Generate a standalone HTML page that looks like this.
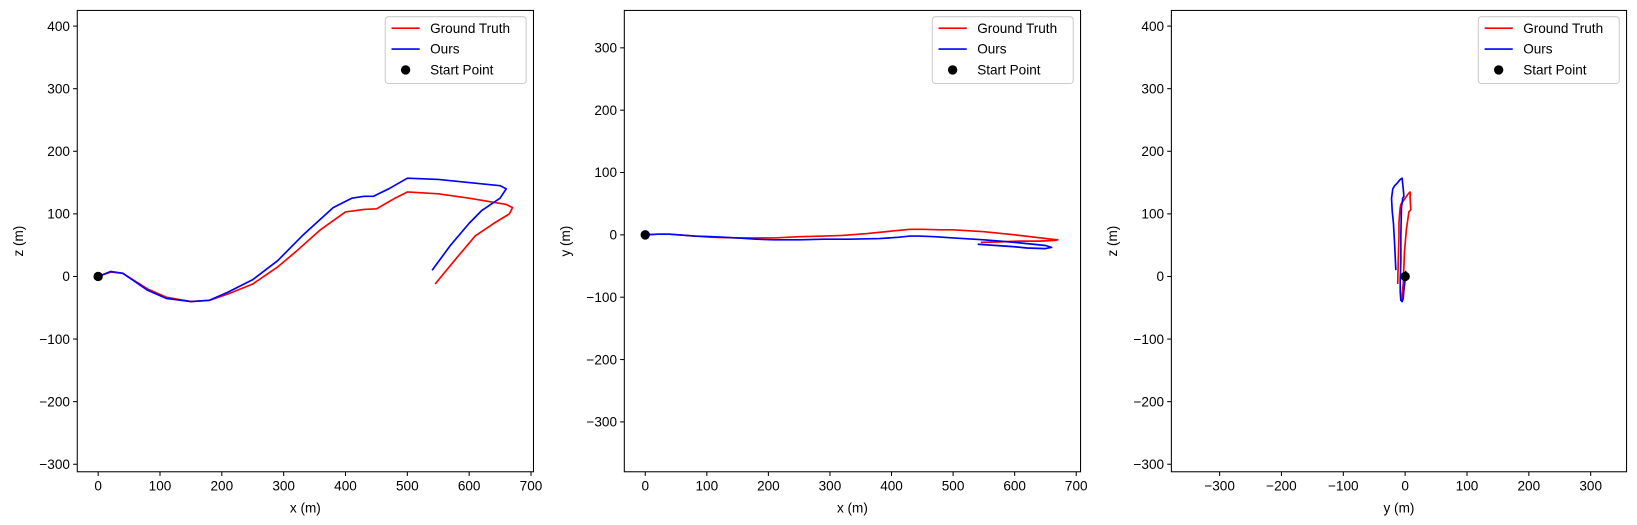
<!DOCTYPE html>
<html><head><meta charset="utf-8"><style>
html,body{margin:0;padding:0;background:#fff;overflow:hidden;width:1637px;height:525px;}
svg{display:block;}
svg text{font-family:"Liberation Sans",sans-serif;font-size:13px;fill:#000;}
</style></head><body>
<svg id="fig" width="1637" height="525" viewBox="0 0 1568 503" preserveAspectRatio="none"></svg>
<script>
const gtX=[0,20,40,80,110,150,180,210,250,290,320,360,400,430,450,480,500,550,600,660,670,665,640,610,580,545];
const gtY=[0,1,1,-2,-4,-5,-5,-5,-3,-2,-1,2,6,9,9,8,8,5,0,-7,-8,-9,-10,-10,-11,-12];
const gtZ=[0,7,5,-20,-33,-40,-38,-28,-12,15,40,75,103,107,108,125,135,132,125,115,110,100,85,65,30,-12];
const ouX=[0,20,40,80,110,150,180,210,250,290,330,380,410,430,445,470,500,550,600,650,660,650,620,600,570,540];
const ouY=[0,1,1,-2,-3,-5,-7,-8,-8,-7,-7,-6,-4,-2,-2,-3,-5,-8,-12,-17,-20,-22,-21,-19,-17,-15];
const ouZ=[0,8,5,-22,-35,-40,-38,-25,-5,25,65,110,125,128,128,140,157,155,150,145,140,125,105,85,50,10];
const start=[0,0,0];
const xTicks=[0,100,200,300,400,500,600,700];
const zTicks=[-300,-200,-100,0,100,200,300,400];
const yTicks2=[-300,-200,-100,0,100,200,300];
const yTicks3=[-300,-200,-100,0,100,200,300];
const NS="http://www.w3.org/2000/svg";
const svg=document.getElementById('fig');
function mk(t,a,p){const e=document.createElementNS(NS,t);for(const k in a)e.setAttribute(k,a[k]);(p||svg).appendChild(e);return e;}
const panels=[
 {L:74,R:511,T:10,B:452,xmin:-33.8,xmax:704,ymin:-312,ymax:425,hx:gtX,hy:gtZ,ox:ouX,oy:ouZ,xt:xTicks,yt:zTicks,xl:'x (m)',yl:'z (m)',s:[0,2]},
 {L:598,R:1035,T:10,B:452,xmin:-34,xmax:707,ymin:-380,ymax:360,hx:gtX,hy:gtY,ox:ouX,oy:ouY,xt:xTicks,yt:yTicks2,xl:'x (m)',yl:'y (m)',s:[0,1]},
 {L:1122,R:1558,T:10,B:452,xmin:-378,xmax:358,ymin:-312,ymax:425,hx:gtY,hy:gtZ,ox:ouY,oy:ouZ,xt:yTicks3,yt:zTicks,xl:'y (m)',yl:'z (m)',s:[1,2]}
];
panels.forEach((p,i)=>{
 const g=mk('g',{});
 
 
 const sx=v=>p.L+(v-p.xmin)/(p.xmax-p.xmin)*(p.R-p.L);
 const sy=v=>p.B-(v-p.ymin)/(p.ymax-p.ymin)*(p.B-p.T);
 const pts=(xs,ys)=>xs.map((v,k)=>sx(v).toFixed(1)+','+sy(ys[k]).toFixed(1)).join(' ');
 const gl=mk('polyline',{points:pts(p.hx,p.hy),fill:'none',stroke:'#f00','stroke-width':1.6,'stroke-linejoin':'round'},g);
 
 
 const ol=mk('polyline',{points:pts(p.ox,p.oy),fill:'none',stroke:'#00f','stroke-width':1.6,'stroke-linejoin':'round'},g);
 
 
 const sp=mk('circle',{cx:sx(start[p.s[0]]),cy:sy(start[p.s[1]]),r:4.5,fill:'#000'},g);
 
 
 mk('rect',{x:p.L,y:p.T,width:p.R-p.L,height:p.B-p.T,fill:'none',stroke:'#000','stroke-width':1},g);
 p.xt.forEach(v=>{const x=sx(v);mk('line',{x1:x,x2:x,y1:p.B,y2:p.B+4,stroke:'#000'},g);
  const t=mk('text',{x:x,y:p.B+18,'text-anchor':'middle'},g);t.textContent=v<0?'\u2212'+(-v):v;
  });
 p.yt.forEach(v=>{const y=sy(v);mk('line',{x1:p.L-4,x2:p.L,y1:y,y2:y,stroke:'#000'},g);
  const t=mk('text',{x:p.L-7,y:y+4.5,'text-anchor':'end'},g);t.textContent=v<0?'\u2212'+(-v):v;
  });
 const xl=mk('text',{x:(p.L+p.R)/2,y:p.B+39,'text-anchor':'middle'},g);xl.textContent=p.xl;
 
 const yx=p.L-52,yy=(p.T+p.B)/2;
 const yl=mk('text',{x:yx,y:yy,'text-anchor':'middle',transform:`rotate(-90 ${yx} ${yy})`},g);yl.textContent=p.yl;
 
 const lg=mk('g',{},g);
 
 
 const lx=p.R-142,ly=16;
 mk('rect',{x:lx,y:ly,width:135,height:64,rx:3,fill:'#fff',stroke:'#ccc'},lg);
 [['Ground Truth','#f00'],['Ours','#00f'],['Start Point','#000']].forEach((e,k)=>{
  const y=ly+11+k*20;
  if(k<2)mk('line',{x1:lx+6,x2:lx+33,y1:y,y2:y,stroke:e[1],'stroke-width':1.6},lg);
  else mk('circle',{cx:lx+19.5,cy:y,r:4.5,fill:'#000'},lg);
  const t=mk('text',{x:lx+43,y:y+4.5},lg);t.textContent=e[0];
  
 });
});
</script>
</body></html>
